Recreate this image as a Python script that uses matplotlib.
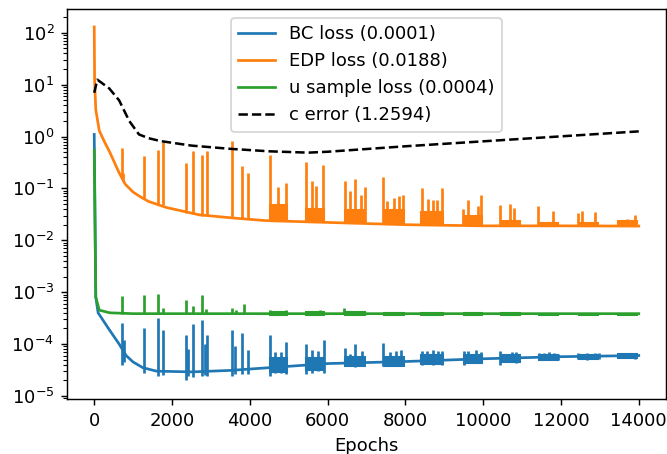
import matplotlib
matplotlib.use("Agg")
import matplotlib.pyplot as plt
import numpy as np

# baseline curves (epoch, value)
bc_epochs = [0, 40, 100, 385, 640, 820, 1000, 1250, 1600, 2500, 3500, 4500, 6000, 8000, 10000, 12000, 14000]
bc_loss = [1.1, 8e-4, 4e-4, 1.9e-4, 1.0e-4, 6e-5, 4.5e-5, 3.5e-5, 3.0e-5, 2.9e-5, 3.1e-5, 3.5e-5,
           4.2e-5, 4.6e-5, 5.2e-5, 5.7e-5, 6.0e-5]

edp_epochs = [0, 10, 40, 130, 260, 400, 640, 800, 1000, 1200, 1400, 1850, 2700, 3550, 4400, 6100,
              8000, 10000, 12000, 14000]
edp_loss = [130, 12, 3.3, 1.3, 0.8, 0.5, 0.2, 0.12, 0.085, 0.068, 0.056, 0.043, 0.031, 0.027, 0.024,
            0.022, 0.020, 0.019, 0.019, 0.0188]

u_epochs = [0, 40, 130, 400, 1000, 14000]
u_loss = [0.55, 8e-4, 4.5e-4, 4.0e-4, 3.85e-4, 3.85e-4]

c_epochs = [0, 80, 385, 640, 900, 1150, 1400, 1700, 2500, 3500, 4500, 5500, 6000, 8000, 10000, 12000, 14000]
c_error = [7.0, 12.5, 8.5, 5.0, 2.0, 1.1, 0.93, 0.82, 0.67, 0.58, 0.52, 0.49, 0.51, 0.65, 0.81, 1.01, 1.26]

# spikes: epoch, bottom, top
bc_spk_ep = [702, 760, 1284, 1627, 1772, 2355, 2420, 2543, 2766, 2850, 2911, 3553, 3620, 3810, 3964,
             4513, 4650, 4800, 4924, 5438, 5600, 5750, 5908, 6447, 6567, 6704, 6893, 7431, 7600,
             7750, 7878, 8420, 8550, 8700, 8850, 8950, 9504, 9615, 9804, 9932, 10420, 10532, 10746,
             10849, 11431, 11559, 11688, 11816, 11927, 12441, 12672, 12886, 12990, 13486, 13657,
             13786, 13914]
bc_spk_lo = [4.0e-5, 4.5e-5, 2.8e-5, 2.4e-5, 2.5e-5, 2.0e-5, 2.4e-5, 2.3e-5, 2.4e-5, 2.5e-5, 2.4e-5,
             2.4e-5, 2.6e-5, 2.6e-5, 2.6e-5, 2.4e-5, 2.8e-5, 2.8e-5, 2.7e-5, 2.6e-5, 2.8e-5, 3.0e-5,
             2.8e-5, 3.7e-5, 3.8e-5, 3.6e-5, 3.7e-5, 3.7e-5, 3.9e-5, 3.9e-5, 3.7e-5, 4.0e-5, 4.1e-5,
             4.0e-5, 4.2e-5, 4.0e-5, 4.0e-5, 4.3e-5, 4.3e-5, 4.4e-5, 4.0e-5, 4.6e-5, 4.6e-5, 4.3e-5,
             4.9e-5, 4.9e-5, 4.9e-5, 5.0e-5, 5.0e-5, 5.2e-5, 5.0e-5, 5.2e-5, 5.2e-5, 5.4e-5, 5.4e-5,
             5.4e-5, 5.2e-5]
bc_spk_hi = [2.6e-4, 1.2e-4, 2.0e-4, 3.2e-4, 1.9e-4, 1.5e-4, 8e-5, 2.4e-4, 2.9e-4, 1.0e-4, 1.5e-4,
             1.9e-4, 9e-5, 1.6e-4, 7.7e-5, 1.5e-4, 6.9e-5, 7.0e-5, 1.1e-4, 1.0e-4, 7.7e-5, 7.3e-5,
             1.2e-4, 8.5e-5, 6.3e-5, 1.0e-4, 7.3e-5, 1.06e-4, 6.9e-5, 7.3e-5, 7.7e-5, 7.5e-5, 7.3e-5,
             7.7e-5, 7.3e-5, 7.5e-5, 7.5e-5, 7.3e-5, 7.7e-5, 7.0e-5, 7.5e-5, 6.1e-5, 7.0e-5, 7.0e-5,
             6.6e-5, 6.8e-5, 7.0e-5, 6.8e-5, 6.3e-5, 6.6e-5, 6.6e-5, 6.8e-5, 6.6e-5, 6.6e-5, 6.3e-5,
             6.8e-5, 6.8e-5]

edp_spk_ep = [702, 740, 1284, 1627, 1772, 2355, 2543, 2766, 2911, 3553, 3810, 3964, 4513, 4735, 4924,
              5438, 5592, 5710, 5882, 6447, 6567, 6704, 6850, 6953, 7431, 7534, 7706, 7835, 7937,
              8417, 8588, 8700, 8820, 8947, 9487, 9615, 9855, 9932, 10430, 10677, 10800, 11414,
              11790, 12442, 12545, 12862, 13700, 13914]
edp_spk_lo = [0.15, 0.14, 0.065, 0.05, 0.047, 0.033, 0.032, 0.03, 0.03, 0.027, 0.027, 0.026, 0.025,
              0.024, 0.024, 0.023, 0.023, 0.023, 0.023, 0.022, 0.022, 0.022, 0.022, 0.022, 0.021,
              0.021, 0.021, 0.021, 0.021, 0.02, 0.02, 0.02, 0.02, 0.02, 0.02, 0.02, 0.02, 0.02,
              0.019, 0.019, 0.019, 0.019, 0.019, 0.019, 0.019, 0.019, 0.019, 0.019]
edp_spk_hi = [0.60, 0.2, 0.42, 0.54, 0.78, 0.31, 0.52, 0.45, 0.52, 0.81, 0.27, 0.20, 0.45, 0.107, 0.13,
              0.33, 0.138, 0.11, 0.28, 0.14, 0.091, 0.153, 0.076, 0.107, 0.167, 0.057, 0.066, 0.071,
              0.076, 0.10, 0.063, 0.06, 0.061, 0.10, 0.04, 0.059, 0.045, 0.074, 0.047, 0.051, 0.042,
              0.045, 0.037, 0.033, 0.036, 0.035, 0.026, 0.031]

u_spk_ep = [702, 1284, 1627, 1772, 2355, 2543, 2766, 2886, 3553, 3650, 3850, 4513, 4700, 4924,
            5438, 5600, 5800, 6422]
u_spk_hi = [8.3e-4, 8.9e-4, 9.3e-4, 5.0e-4, 7.2e-4, 5.3e-4, 8.9e-4, 4.8e-4, 5.0e-4, 4.6e-4, 5.8e-4,
            4.5e-4, 4.4e-4, 4.5e-4, 4.4e-4, 4.4e-4, 4.5e-4, 4.9e-4]
u_spk_lo = [3.8e-4] * len(u_spk_ep)

# dense bursts: start, end, bottom, top
burst_start = [4500, 5430, 6420, 7420, 8380, 9480, 10420, 11400, 12430, 13450]
burst_end = [4950, 5920, 6970, 7960, 8970, 9960, 10940, 11930, 12960, 13950]
bc_burst_lo = [2.9e-5, 3.2e-5, 3.7e-5, 3.8e-5, 4.1e-5, 4.4e-5, 4.6e-5, 5.0e-5, 5.2e-5, 5.4e-5]
bc_burst_hi = [5.5e-5, 5.5e-5, 6.0e-5, 6.0e-5, 6.5e-5, 6.3e-5, 6.3e-5, 6.3e-5, 6.4e-5, 6.6e-5]
edp_burst_lo = [0.024, 0.023, 0.022, 0.021, 0.020, 0.020, 0.019, 0.019, 0.019, 0.019]
edp_burst_hi = [0.05, 0.042, 0.04, 0.04, 0.037, 0.031, 0.025, 0.023, 0.023, 0.025]
u_burst_lo = [3.7e-4] * 10
u_burst_hi = [4.3e-4, 4.3e-4, 4.3e-4, 4.2e-4, 4.2e-4, 4.2e-4, 4.1e-4, 4.0e-4, 4.0e-4, 3.95e-4]

labels = ["BC loss (0.0001)", "EDP loss (0.0188)", "u sample loss (0.0004)", "c error (1.2594)"]
colors = ["#1f77b4", "#ff7f0e", "#2ca02c"]

dpi = 130
fig = plt.figure(figsize=(667 / dpi, 454 / dpi), dpi=dpi)
ax = fig.add_axes([67 / 667, 55 / 454, 599 / 667, 390 / 454])

series = [
    (bc_epochs, bc_loss, bc_spk_ep, bc_spk_lo, bc_spk_hi, bc_burst_lo, bc_burst_hi),
    (edp_epochs, edp_loss, edp_spk_ep, edp_spk_lo, edp_spk_hi, edp_burst_lo, edp_burst_hi),
    (u_epochs, u_loss, u_spk_ep, u_spk_lo, u_spk_hi, u_burst_lo, u_burst_hi),
]
for (ep, val, sep, slo, shi, blo, bhi), col, lab in zip(series, colors, labels):
    ax.plot(ep, val, color=col, lw=1.5, label=lab)
    ax.vlines(sep, slo, shi, color=col, lw=1.5)
    for s, e, lo, hi in zip(burst_start, burst_end, blo, bhi):
        ax.fill_between([s, e], lo, hi, color=col, lw=0.6, edgecolor=col)

ax.plot(c_epochs, c_error, "k--", lw=1.4, label=labels[3])

ax.set_yscale("log")
ax.set_xlim(-700, 14700)
ax.set_ylim(10 ** -5.06, 10 ** 2.46)
ax.set_xlabel("Epochs")
ax.legend(loc="upper center")

fig.savefig("out.png", dpi=dpi)
